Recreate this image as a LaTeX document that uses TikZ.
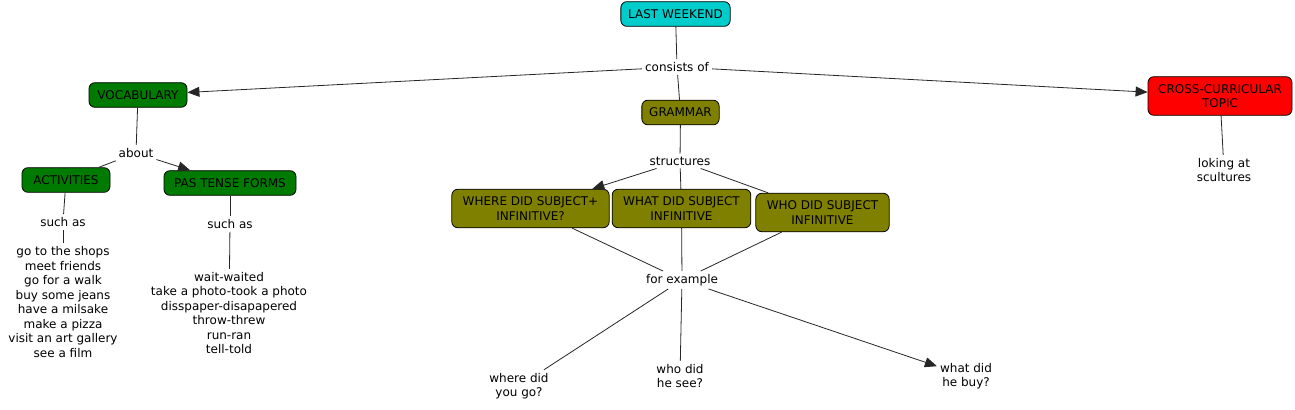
\documentclass[tikz,border=0pt]{standalone}
\usepackage{fontspec}
\setmainfont{DejaVu Sans}
\usetikzlibrary{arrows.meta}

\definecolor{weekcyan}{RGB}{0,204,204}
\definecolor{vocgreen}{RGB}{0,122,0}
\definecolor{gramolive}{RGB}{128,128,0}
\definecolor{crossred}{RGB}{255,0,0}

\tikzset{every picture/.style={line width=0.75pt}}
\tikzset{
	concept/.style={draw=black, line width=0.6pt, rounded corners=4.5pt, inner xsep=5.5pt, inner ysep=4.5pt,
		minimum height=18.5pt, align=center, font=\fontsize{9}{11}\selectfont},
	twoline/.style={inner ysep=5.6pt},
	phrase/.style={inner sep=2pt, align=center, font=\fontsize{9}{10.9}\selectfont},
	link/.style={draw=black!85, line width=0.6pt},
	linkarrow/.style={link, -{Triangle[length=9pt,width=7.5pt]}}
}

\begin{document}
\begin{tikzpicture}[x=0.75pt,y=0.75pt,yscale=-1,xscale=1]
	\path[use as bounding box] (0,0) rectangle (1295,410);

	% Concepts
	\node[concept, fill=weekcyan] (week) at (675.5,14) {LAST WEEKEND};
	\node[concept, fill=vocgreen, minimum width=73.5pt] (vocab) at (138,95) {VOCABULARY};
	\node[concept, fill=gramolive] (gram) at (680.5,112.5) {GRAMMAR};
	\node[concept, twoline, fill=crossred, minimum width=108pt] (cross) at (1220,96) {CROSS-CURRICULAR\\TOPIC};
	\node[concept, fill=vocgreen, minimum width=66pt] (activ) at (66,180) {ACTIVITIES};
	\node[concept, fill=vocgreen, minimum width=99pt] (past) at (230,183) {PAS TENSE FORMS};
	\node[concept, twoline, fill=gramolive, minimum width=118pt] (where) at (530.5,208.5) {WHERE DID SUBJECT+\\INFINITIVE?};
	\node[concept, twoline, fill=gramolive, minimum width=104pt] (what) at (681.5,208.5) {WHAT DID SUBJECT\\INFINITIVE};
	\node[concept, twoline, fill=gramolive, minimum width=100pt] (who) at (822.5,212.5) {WHO DID SUBJECT\\INFINITIVE};

	% Linking phrases
	\node[phrase] (consists) at (677,67) {consists of};
	\node[phrase] (about) at (136,153) {about};
	\node[phrase] (suchl) at (63,222) {such as};
	\node[phrase] (suchr) at (230,224) {such as};
	\node[phrase] (struct) at (680,161) {structures};
	\node[phrase] (forex) at (682,280) {for example};

	% Text Node
	\node[phrase] (actlist) at (63,302) {go to the shops\\meet friends\\go for a walk\\buy some jeans\\have a milsake\\make a pizza\\visit an art gallery\\see a film};
	% Text Node
	\node[phrase] (pastlist) at (229,313) {wait-waited\\take a photo-took a photo\\disspaper-disapapered\\throw-threw\\run-ran\\tell-told};
	% Text Node
	\node[phrase] (scult) at (1224,170) {loking at\\scultures};
	% Text Node
	\node[phrase] (wherego) at (519,386) {where did\\you go?};
	% Text Node
	\node[phrase] (whosee) at (680,376) {who did\\he see?};
	% Text Node
	\node[phrase] (whatbuy) at (966,376) {what did\\he buy?};

	% Connectors
	\draw[link] (week) -- (consists);
	\draw[linkarrow] (consists) -- (vocab);
	\draw[link] (consists) -- (gram);
	\draw[linkarrow] (consists) -- (cross);
	\draw[link] (vocab) -- (about);
	\draw[link] (about) -- (activ);
	\draw[linkarrow] (about) -- (past);
	\draw[link] (activ) -- (suchl);
	\draw[link] (suchl) -- (actlist);
	\draw[link] (past) -- (suchr);
	\draw[link] (suchr) -- (pastlist);
	\draw[link] (cross) -- (scult);
	\draw[link] (gram) -- (struct);
	\draw[linkarrow] (struct) -- (where);
	\draw[link] (struct) -- (what);
	\draw[link] (struct) -- (who);
	\draw[link] (where) -- (forex);
	\draw[link] (what) -- (forex);
	\draw[link] (who) -- (forex);
	\draw[link] (forex) -- (wherego);
	\draw[link] (forex) -- (whosee);
	\draw[linkarrow] (forex) -- (whatbuy);
\end{tikzpicture}
\end{document}
